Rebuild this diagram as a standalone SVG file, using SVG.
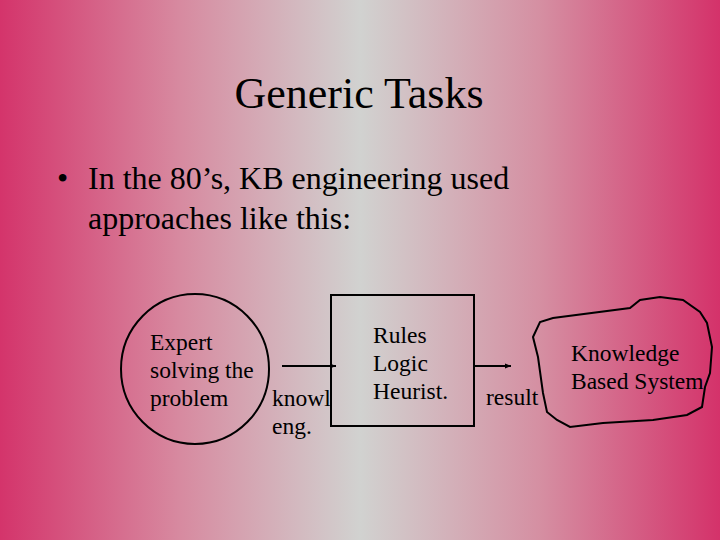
<svg xmlns="http://www.w3.org/2000/svg" width="720" height="540" viewBox="0 0 720 540">
<defs>
<linearGradient id="bg" x1="0" y1="0" x2="1" y2="0">
<stop offset="0" stop-color="#D4346B"/>
<stop offset="0.25" stop-color="#D78AA0"/>
<stop offset="0.5" stop-color="#D1D2D0"/>
<stop offset="0.75" stop-color="#D58FA2"/>
<stop offset="1" stop-color="#D4326A"/>
</linearGradient>
<marker id="arr" viewBox="0 0 10 10" refX="10" refY="5" markerWidth="6" markerHeight="6" orient="auto" markerUnits="userSpaceOnUse">
<path d="M0,1 L10,5 L0,9 Z" fill="#000"/>
</marker>
<style>
.title{font-size:44px}
.bul{font-size:32px}
.lbl{font-size:23.5px}
.shape{fill:none;stroke:#000;stroke-width:2}
.conn{stroke:#000;stroke-width:2;fill:none}
</style>
</defs>
<rect x="0" y="0" width="720" height="540" fill="url(#bg)"/>
<g font-family="'Liberation Serif', 'Times New Roman', 'DejaVu Serif', serif" fill="#000">
<text class="title" x="359" y="108" text-anchor="middle">Generic Tasks</text>
<text class="bul" x="57" y="189">•</text>
<text class="bul" x="88" y="189">In the 80’s, KB engineering used</text>
<text class="bul" x="88" y="229">approaches like this:</text>
<g id="expert">
<ellipse class="shape" cx="195" cy="369" rx="74" ry="75"/>
<text class="lbl" x="150" y="350">Expert</text>
<text class="lbl" x="150" y="378">solving the</text>
<text class="lbl" x="150" y="406">problem</text>
</g>
<g id="kbox">
<rect class="shape" x="331" y="295" width="143" height="131"/>
<text class="lbl" x="373" y="343">Rules</text>
<text class="lbl" x="373" y="371">Logic</text>
<text class="lbl" x="373" y="399">Heurist.</text>
</g>
<g id="kbs">
<path class="shape" d="M533,337 L540,322 L553,318 L630,308 L640,300 L660,297 L683,300 L700,312 L707,323 L712,347 L710,373 L705,387 L702,407 L687,415 L653,420 L603,423 L570,427 L557,420 L547,412 L543,393 L538,357 Z"/>
<text class="lbl" x="571" y="361">Knowledge</text>
<text class="lbl" x="571" y="389">Based System</text>
</g>
<g id="connectors">
<line class="conn" x1="282" y1="366" x2="336" y2="366" marker-end="url(#arr)"/>
<line class="conn" x1="474" y1="366" x2="511" y2="366" marker-end="url(#arr)"/>
<text class="lbl" x="272" y="406">knowl</text>
<text class="lbl" x="272" y="434">eng.</text>
<text class="lbl" x="486" y="405">result</text>
</g>
</g>
</svg>
